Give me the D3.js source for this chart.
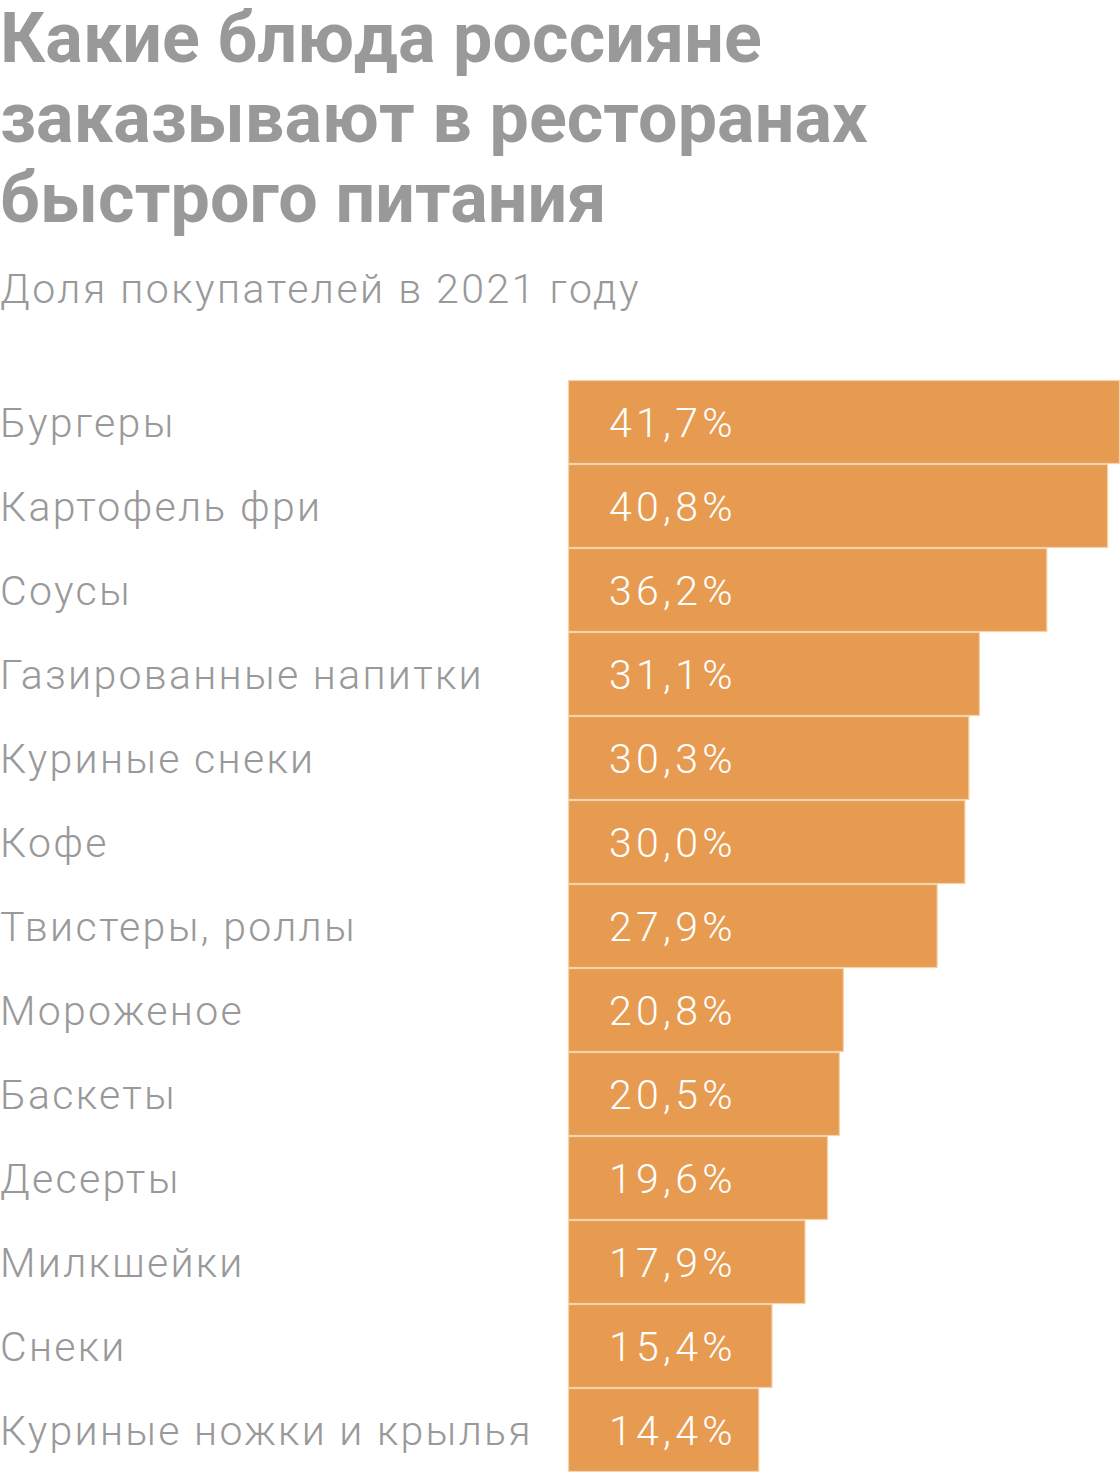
<!DOCTYPE html>
<html><head><meta charset="utf-8">
<script src="https://cdn.jsdelivr.net/npm/d3@7/dist/d3.min.js"></script>
<style>body{margin:0;background:#fff;}svg{display:block;}</style>
</head><body>
<script>
const titleLines = ["Какие блюда россияне", "заказывают в ресторанах", "быстрого питания"];
const subtitle = "Доля покупателей в 2021 году";
const categories = ["Бургеры","Картофель фри","Соусы","Газированные напитки","Куриные снеки","Кофе","Твистеры, роллы","Мороженое","Баскеты","Десерты","Милкшейки","Снеки","Куриные ножки и крылья"];
const values = [41.7,40.8,36.2,31.1,30.3,30.0,27.9,20.8,20.5,19.6,17.9,15.4,14.4];

const W = 1120, H = 1472;
const svg = d3.select("body").append("svg").attr("width", W).attr("height", H);
const font = "Roboto, 'Noto Sans', sans-serif";

svg.selectAll("text.title").data(titleLines).join("text")
  .attr("x", 0).attr("y", (d,i)=>62 + i*80)
  .attr("font-family", font).attr("font-weight", 700).attr("font-size", 70)
  .attr("letter-spacing", 0.1)
  .attr("fill", "#999999").text(d=>d);

svg.append("text").attr("x", 0).attr("y", 303)
  .attr("font-family", font).attr("font-weight", 300).attr("font-size", 41).attr("letter-spacing", 2.5)
  .attr("fill", "#999999").text(subtitle);

const x = d3.scaleLinear().domain([0, 41.7]).range([568.5, 1119.5]);
const y = d3.scaleBand().domain(categories).range([380, 1472]).padding(0);

svg.selectAll("rect.bar").data(values).join("rect")
  .attr("x", x(0)).attr("y", (d,i)=>y(categories[i]) + 0.5)
  .attr("width", d=>x(d)-x(0)).attr("height", y.bandwidth()-1)
  .attr("fill", "#e79b51").attr("stroke", "#f4d2ac").attr("stroke-width", 1.2);

svg.selectAll("text.cat").data(categories).join("text")
  .attr("x", 0).attr("y", d=>y(d) + y.bandwidth()/2 + 14.5)
  .attr("font-family", font).attr("font-weight", 300).attr("font-size", 41).attr("letter-spacing", 2.3)
  .attr("fill", "#999999").text(d=>d);

svg.selectAll("text.val").data(values).join("text")
  .attr("x", 609).attr("y", (d,i)=>y(categories[i]) + y.bandwidth()/2 + 14.5)
  .attr("font-family", font).attr("font-weight", 300).attr("font-size", 41).attr("letter-spacing", 4.3)
  .attr("fill", "#ffffff")
  .text(d=>d.toFixed(1).replace(".", ",") + "%");
</script>
</body></html>
